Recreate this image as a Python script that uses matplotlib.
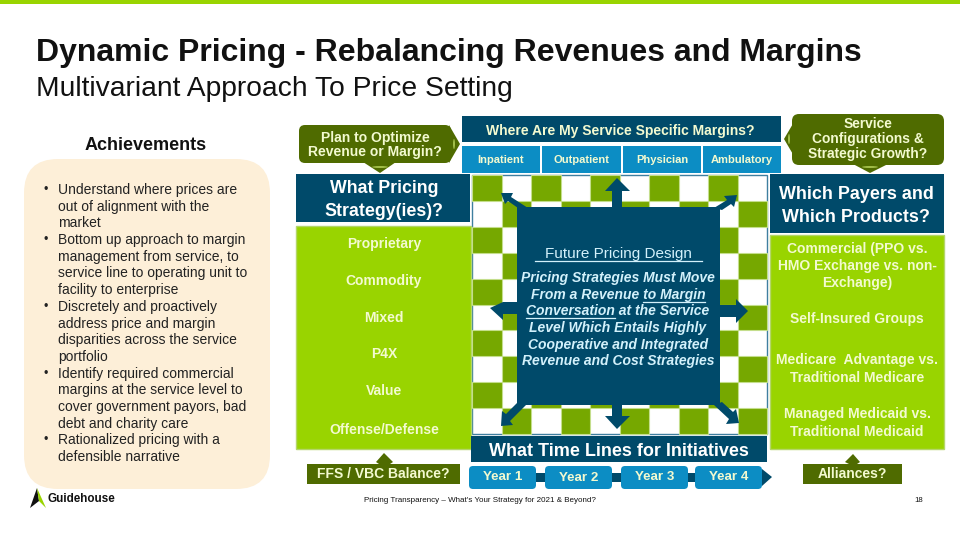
import matplotlib
matplotlib.use('Agg')
import matplotlib.pyplot as plt
from matplotlib.patches import Rectangle, FancyBboxPatch, Polygon, Ellipse

plt.rcParams['font.family'] = ['Liberation Sans', 'DejaVu Sans']

# slide colours
LIME = '#99d400'
GREEN = '#76a800'
OLIVE = '#4f6b00'
NAVY = '#004a6a'
BLUE = '#0c8dc4'
CREAM = '#fdefd8'
PALE = '#d3f1fb'
SOFT = '#f3fad0'

# slide texts
title = 'Dynamic Pricing - Rebalancing Revenues and Margins'
subtitle = 'Multivariant Approach To Price Setting'
achievements = [
    '• Understand where prices are', 'out of alignment with the', 'market',
    '• Bottom up approach to margin', 'management from service, to',
    'service line to operating unit to', 'facility to enterprise',
    '• Discretely and proactively', 'address price and margin',
    'disparities across the service', 'portfolio',
    '• Identify required commercial', 'margins at the service level to',
    'cover government payors, bad', 'debt and charity care',
    '• Rationalized pricing with a', 'defensible narrative',
]
services = ['Inpatient', 'Outpatient', 'Physician', 'Ambulatory']
strategies = ['Proprietary', 'Commodity', 'Mixed', 'P4X', 'Value', 'Offense/Defense']
payers = ['Commercial (PPO vs.\nHMO Exchange vs. non-\nExchange)', 'Self-Insured Groups',
          'Medicare  Advantage vs.\nTraditional Medicare',
          'Managed Medicaid vs.\nTraditional Medicaid']
years = ['Year 1', 'Year 2', 'Year 3', 'Year 4']
design_lines = ['Pricing Strategies Must Move', 'From a Revenue to Margin',
                'Conversation at the Service', 'Level Which Entails Highly',
                'Cooperative and Integrated', 'Revenue and Cost Strategies']
checker_rows = ['1010101010', '0101010101'] * 5

fig = plt.figure(figsize=(9.6, 5.4), dpi=100)
ax = fig.add_axes([0, 0, 1, 1])
ax.set_xlim(0, 960)
ax.set_ylim(540, 0)
ax.axis('off')


def box(x0, y0, x1, y1, color, edge='none', z=2):
    ax.add_patch(Rectangle((x0, y0), x1 - x0, y1 - y0, fc=color, ec=edge, lw=1, zorder=z))


def rbox(x0, y0, x1, y1, r, color, z=2):
    ax.add_patch(FancyBboxPatch((x0 + r, y0 + r), x1 - x0 - 2 * r, y1 - y0 - 2 * r,
                                boxstyle=f'round,pad={r},rounding_size={r}',
                                fc=color, ec='none', zorder=z))


def label(x, y, s, size, color='white', weight='bold', ha='center', style='normal', z=6, gap=1.3):
    # +1 because va=center leaves the letters slightly above the middle
    return ax.text(x, y + 1, s, fontsize=size, color=color, fontweight=weight, ha=ha, va='center',
                   fontstyle=style, zorder=z, linespacing=gap)


def arrow(points):
    ax.add_patch(Polygon(points, closed=True, fc=NAVY, ec='none', zorder=4))


def underline(txt, part):
    # underline part of a centred line by measuring its pieces
    r = fig.canvas.get_renderer()
    s = txt.get_text()
    bb = txt.get_window_extent(r)
    probe = ax.text(0, 0, s[:s.index(part)] + '|', fontsize=txt.get_fontsize(), fontweight='bold',
                    fontstyle='italic')
    bar = ax.text(0, 0, '|', fontsize=txt.get_fontsize(), fontweight='bold', fontstyle='italic')
    w0 = probe.get_window_extent(r).width - bar.get_window_extent(r).width
    probe.set_text(part)
    w1 = probe.get_window_extent(r).width
    probe.remove()
    bar.remove()
    y = txt.get_position()[1] + 7
    ax.plot([bb.x0 + w0, bb.x0 + w0 + w1], [y, y], color=txt.get_color(), lw=0.9, zorder=6)


# header
box(0, 0, 960, 4, LIME)
label(36, 52, title, 23, color='#111111', ha='left')
label(36, 88, subtitle, 20.3, color='#111111', weight='normal', ha='left')

# achievements panel
label(146, 144, 'Achievements', 13, color='#111111')
rbox(24, 159, 270, 489, 34, CREAM)
for i, line in enumerate(achievements):
    y = 190 + i * 16.69
    if line.startswith('•'):
        ax.text(44, y, '•', fontsize=9, color='#222222', ha='left', va='center', zorder=6)
        line = line[2:]
    ax.text(58, y, line, fontsize=10, color='#222222', ha='left', va='center', zorder=6)

# left column
rbox(299, 125, 451, 163, 6, OLIVE)
ax.add_patch(Polygon([(449, 125), (460, 144), (449, 163)], fc=OLIVE, ec='none', zorder=2))
ax.add_patch(Polygon([(363, 162), (396, 162), (380, 173)], fc=OLIVE, ec='none', zorder=2))
ax.add_patch(Ellipse((380, 167), 16, 2, fc='#a3bf4a', ec='none', zorder=3))
ax.add_patch(Ellipse((454, 144), 2, 10, fc='#a3bf4a', ec='none', zorder=3))
label(375, 144, 'Plan to Optimize\nRevenue or Margin?', 10, color=SOFT, gap=1.08)
box(296, 174, 470, 222, NAVY)
label(384, 199, 'What Pricing\nStrategy(ies)?', 12.8, gap=1.4)
box(296, 226, 471, 449, LIME, edge='#b4d66a')
for y, s in zip([243, 280, 317, 353, 390, 429], strategies):
    label(384, y, s, 10, color=SOFT)
box(307, 464, 460, 484, OLIVE)
ax.add_patch(Polygon([(376, 462), (384, 453), (393, 462), (390, 464), (379, 464)],
                     fc=OLIVE, ec='none', zorder=2))
label(383, 473, 'FFS / VBC Balance?', 10, color=SOFT)

# top service row
box(462, 116, 781, 142, NAVY)
label(620, 130, 'Where Are My Service Specific Margins?', 10, color=SOFT)
for (x0, x1), s in zip([(462, 540), (542, 621), (623, 701), (703, 781)], services):
    box(x0, 146, x1, 173, BLUE)
    label((x0 + x1) / 2, 159, s, 8, color=SOFT)

# checkerboard behind the centre box
cell_w = (767 - 472) / 10
cell_h = (434 - 175) / 10
box(472, 175, 767, 434, 'white', edge='#3f7f9f', z=1)
for r, row in enumerate(checker_rows):
    for c, flag in enumerate(row):
        if flag == '1':
            ax.add_patch(Rectangle((472 + c * cell_w, 175 + r * cell_h), cell_w, cell_h,
                                   fc=GREEN, ec='#c4de8c', lw=0.8, zorder=2))

# centre box with arrows
box(517, 207, 720, 405, NAVY, z=4)
arrow([(605, 191), (617, 178), (630, 191), (622, 191), (622, 208), (612, 208), (612, 191)])
arrow([(605, 416), (617, 429), (630, 416), (622, 416), (622, 404), (612, 404), (612, 416)])
arrow([(503, 302), (490, 308), (503, 320), (503, 314), (518, 314), (518, 302)])
arrow([(736, 299), (748, 311), (736, 323), (736, 317), (719, 317), (719, 305), (736, 305)])
arrow([(501, 193), (513, 193), (511, 197), (528, 208), (518, 208), (508, 201), (505, 204)])
arrow([(737, 195), (724, 196), (727, 200), (714, 208), (722, 210), (731, 204), (734, 207)])
arrow([(501, 426), (513, 425), (510, 421), (526, 405), (517, 403), (506, 414), (502, 411)])
arrow([(739, 423), (726, 424), (729, 419), (714, 405), (722, 402), (733, 412), (736, 409)])

label(618, 253, 'Future Pricing Design', 11, color=PALE, weight='normal')
fig.canvas.draw()
ax.plot([535, 702], [261, 261], color=PALE, lw=0.9, zorder=6)
for i, line in enumerate(design_lines):
    t = label(618, 277 + i * 16.7, line, 10, color=PALE, weight='bold', style='italic')
    if 'to Margin' in line:
        underline(t, 'to Margin')
    if line.startswith('Conversation'):
        underline(t, 'Conversation')

# timeline
box(471, 436, 767, 462, NAVY, z=5)
label(619, 450, 'What Time Lines for Initiatives', 12.95)
box(530, 473, 765, 482, NAVY)
ax.add_patch(Polygon([(762, 469), (772, 477), (762, 486)], fc=NAVY, ec='none', zorder=2))
for (x0, x1), y, s in zip([(469, 536), (545, 612), (621, 688), (695, 762)],
                          [476, 477, 476, 476], years):
    rbox(x0, 466, x1, 489, 4, BLUE, z=3)
    label((x0 + x1) / 2, y, s, 9.6, color=SOFT)

# right column
rbox(792, 114, 944, 165, 7, OLIVE)
ax.add_patch(Polygon([(794, 122), (784, 139), (794, 156)], fc=OLIVE, ec='none', zorder=2))
ax.add_patch(Polygon([(853, 164), (888, 164), (870, 173)], fc=OLIVE, ec='none', zorder=2))
ax.add_patch(Ellipse((870, 167), 16, 2, fc='#a3bf4a', ec='none', zorder=3))
ax.add_patch(Ellipse((789, 139), 2, 10, fc='#a3bf4a', ec='none', zorder=3))
label(868, 138, 'Service\nConfigurations &\nStrategic Growth?', 9.95, color=SOFT, gap=1.08)
box(770, 174, 944, 233, NAVY)
label(856, 205, 'Which Payers and\nWhich Products?', 12.9, gap=1.4)
box(770, 235, 944, 449, LIME, edge='#b4d66a')
for y, s in zip([265, 318, 368, 422], payers):
    label(857, y, s, 10, color=SOFT)
box(803, 464, 902, 484, OLIVE)
ax.add_patch(Polygon([(845, 462), (853, 454), (860, 462), (857, 464), (849, 464)],
                     fc=OLIVE, ec='none', zorder=2))
label(852, 473, 'Alliances?', 10, color=SOFT)

# footer
ax.add_patch(Polygon([(30, 508), (37, 488), (39, 501)], fc='#111111', ec='none', zorder=3))
ax.add_patch(Polygon([(37, 488), (46, 508), (39, 501)], fc=LIME, ec='none', zorder=3))
label(47, 498, 'Guidehouse', 8.4, color='#111111', ha='left')
label(480, 500, "Pricing Transparency – What's Your Strategy for 2021 & Beyond?", 5.8,
      color='#111111', weight='normal')
label(919, 500, '18', 5.6, color='#111111', weight='normal')

fig.savefig('out.png', dpi=100)
